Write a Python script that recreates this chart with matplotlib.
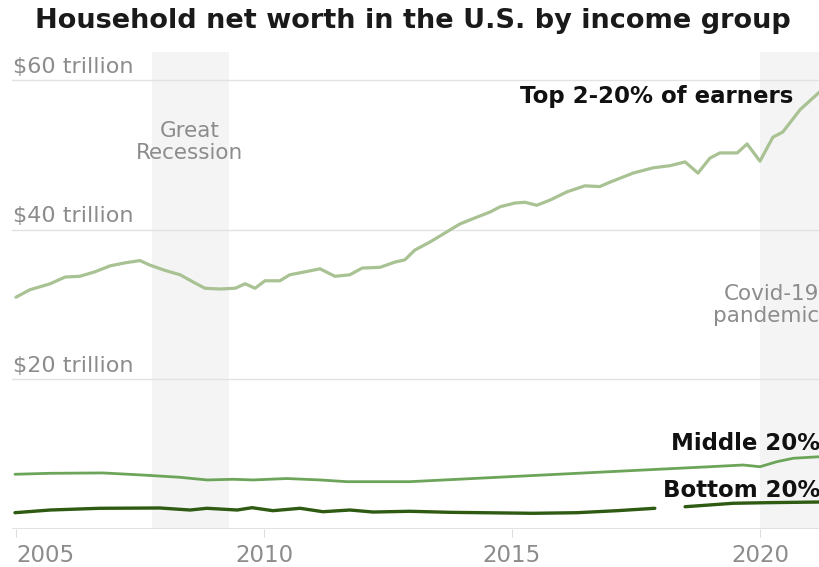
import matplotlib.pyplot as plt
import numpy as np

# household net worth, trillions of dollars
top_years = [2005.0, 2005.28, 2005.69, 2005.99, 2006.29, 2006.59, 2006.90, 2007.20,
             2007.50, 2007.70, 2008.00, 2008.31, 2008.61, 2008.81, 2009.11, 2009.42,
             2009.62, 2009.82, 2010.02, 2010.32, 2010.52, 2010.83, 2011.13, 2011.43,
             2011.73, 2011.98, 2012.34, 2012.64, 2012.84, 2013.04, 2013.35, 2013.65,
             2013.95, 2014.25, 2014.56, 2014.76, 2015.06, 2015.26, 2015.50, 2015.77,
             2016.11, 2016.47, 2016.77, 2016.98, 2017.44, 2017.84, 2018.19, 2018.49,
             2018.75, 2018.99, 2019.19, 2019.54, 2019.74, 2020.00, 2020.26, 2020.46,
             2020.81, 2021.21]
top_vals = [31.0, 32.0, 32.8, 33.7, 33.8, 34.4, 35.2, 35.6,
            35.9, 35.3, 34.6, 34.0, 32.9, 32.2, 32.1, 32.2,
            32.8, 32.2, 33.2, 33.2, 34.0, 34.4, 34.8, 33.8,
            34.0, 34.9, 35.0, 35.7, 36.0, 37.3, 38.4, 39.6,
            40.8, 41.6, 42.4, 43.1, 43.6, 43.7, 43.3, 44.0,
            45.1, 45.9, 45.8, 46.4, 47.6, 48.3, 48.6, 49.1,
            47.6, 49.6, 50.3, 50.3, 51.5, 49.2, 52.4, 53.1,
            56.1, 58.5]

mid_years = [2004.98, 2005.69, 2006.75, 2007.55, 2008.30, 2008.85, 2009.38, 2009.78,
             2010.46, 2011.13, 2011.67, 2012.94, 2014.96, 2016.98, 2018.99, 2019.66,
             2020.00, 2020.34, 2020.67, 2021.21]
mid_vals = [7.32, 7.45, 7.50, 7.22, 6.92, 6.56, 6.65, 6.56,
            6.75, 6.56, 6.33, 6.33, 7.00, 7.67, 8.33, 8.56,
            8.33, 9.00, 9.46, 9.67]

# no estimate for part of 2018
bot_years = [2004.98, 2005.69, 2006.69, 2007.90, 2008.51, 2008.85, 2009.46, 2009.76,
             2010.18, 2010.73, 2011.19, 2011.73, 2012.20, 2012.94, 2013.75, 2015.42,
             2016.31, 2017.12, 2017.88, 2018.2, 2018.49, 2019.46, 2020.14, 2021.21]
bot_vals = [2.18, 2.54, 2.77, 2.81, 2.54, 2.77, 2.54, 2.85,
            2.45, 2.77, 2.31, 2.54, 2.27, 2.37, 2.23, 2.10,
            2.18, 2.45, 2.77, np.nan, 2.98, 3.44, 3.52, 3.61]

recession = (2007.75, 2009.3)
covid = (2020.0, 2021.3)
grid_vals = [20, 40, 60]
grid_labels = ['$20 trillion', '$40 trillion', '$60 trillion']
year_ticks = [2005, 2010, 2015, 2020]

gray = '#8c8c8c'

fig = plt.figure(figsize=(8.2, 5.67), dpi=100)
ax = fig.add_axes([12 / 820, 38 / 567, 808 / 820, 477 / 567])
ax.set_xlim(2004.92, 2021.21)
ax.set_ylim(0, 63.8)

ax.axvspan(*recession, color='#f4f4f4', zorder=0, lw=0)
ax.axvspan(*covid, color='#f4f4f4', zorder=0, lw=0)

for v, lab in zip(grid_vals, grid_labels):
    ax.axhline(v, color='#e2e2e2', lw=1, zorder=1)
    ax.annotate(lab, (0, v), xycoords=('axes fraction', 'data'),
                xytext=(1, 2.5), textcoords='offset points',
                ha='left', va='bottom', fontsize=16, color=gray)
ax.axhline(0, color='#dddddd', lw=1.2, zorder=1)

ax.plot(top_years, top_vals, color='#a9c293', lw=2.3, zorder=3,
        solid_capstyle='round', solid_joinstyle='round')
ax.plot(mid_years, mid_vals, color='#6ca55a', lw=2.0, zorder=3,
        solid_capstyle='round')
ax.plot(bot_years, bot_vals, color='#2e5a12', lw=2.4, zorder=3,
        solid_capstyle='round')

ax.text(2008.5, 51.8, 'Great\nRecession', ha='center', va='center',
        fontsize=15.5, color=gray, linespacing=1.15)
ax.text(2021.2, 30.0, 'Covid-19\npandemic', ha='right', va='center',
        fontsize=15.5, color=gray, linespacing=1.15)

ax.text(2020.67, 57.8, 'Top 2-20% of earners', ha='right', va='center',
        fontsize=16.5, fontweight='bold', color='#111111')
ax.text(2021.22, 11.5, 'Middle 20%', ha='right', va='center',
        fontsize=16.5, fontweight='bold', color='#111111')
ax.text(2021.22, 5.2, 'Bottom 20%', ha='right', va='center',
        fontsize=16.5, fontweight='bold', color='#111111')

ax.set_xticks(year_ticks)
ax.set_xticklabels([str(y) for y in year_ticks])
ax.tick_params(axis='x', length=6, color='#dddddd', labelsize=16.5,
               labelcolor=gray, pad=5)
ax.get_xticklabels()[0].set_ha('left')
ax.set_yticks([])
for s in ax.spines.values():
    s.set_visible(False)

fig.text(0.503, 0.963, 'Household net worth in the U.S. by income group',
         ha='center', va='center', fontsize=19.5, fontweight='bold',
         color='#1a1a1a')

fig.savefig('out.png', dpi=100)
